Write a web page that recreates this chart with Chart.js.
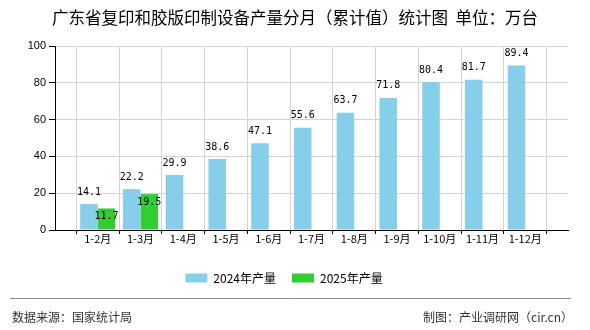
<!DOCTYPE html>
<html>
<head>
<meta charset="utf-8">
<script src="https://cdn.jsdelivr.net/npm/chart.js@4/dist/chart.umd.min.js"></script>
<style>
    html, body { margin: 0; padding: 0; background: #fff; }
    #wrap { width: 590px; height: 330px; position: relative; }
</style>
</head>
<body>
<div id="wrap"><canvas id="chart" width="590" height="330"></canvas></div>
<script>
// Chart data
const categories = ['1-2月', '1-3月', '1-4月', '1-5月', '1-6月', '1-7月', '1-8月', '1-9月', '1-10月', '1-11月', '1-12月'];
const values2024 = [14.1, 22.2, 29.9, 38.6, 47.1, 55.6, 63.7, 71.8, 80.4, 81.7, 89.4];
const values2025 = [11.7, 19.5];
const seriesNames = ['2024年产量', '2025年产量'];
const yTickMin = 0;
const yTickMax = 100;
const yTickStep = 20;

const titleText = '广东省复印和胶版印制设备产量分月（累计值）统计图  单位：万台';
const sourceText = '数据来源：国家统计局';
const creditText = '制图：产业调研网（cir.cn）';

// empty slot on each side of the categories, like the original axis
const labels = [''].concat(categories, ['']);
function padSeries(values) {
    const out = [null];
    for (let i = 0; i < categories.length; i++) {
        out.push(i < values.length ? values[i] : null);
    }
    out.push(null);
    return out;
}

const cjk = '"Noto Sans CJK SC", "Noto Sans", sans-serif';

// titles, footer and value labels
const decorations = {
    id: 'decorations',
    afterDatasetsDraw(chart) {
        const ctx = chart.ctx;
        ctx.save();
        ctx.font = '10px "DejaVu Sans Mono", monospace';
        ctx.fillStyle = '#000';
        ctx.textAlign = 'center';
        ctx.textBaseline = 'middle';
        chart.data.datasets.forEach((ds, di) => {
            const meta = chart.getDatasetMeta(di);
            meta.data.forEach((bar, i) => {
                const v = ds.data[i];
                if (v === null || v === undefined) return;
                const y = di === 0 ? bar.y - 12 : bar.y + 8;
                ctx.fillText(v.toFixed(1), bar.x, y);
            });
        });
        ctx.restore();
    },
    afterDraw(chart) {
        const ctx = chart.ctx;
        ctx.save();
        ctx.fillStyle = '#000';
        ctx.textAlign = 'center';
        ctx.textBaseline = 'middle';
        ctx.font = '16.5px ' + cjk;
        ctx.fillText(titleText, 295, 18);

        ctx.strokeStyle = '#8c8c8c';
        ctx.lineWidth = 1;
        ctx.beginPath();
        ctx.moveTo(10, 298.5);
        ctx.lineTo(571, 298.5);
        ctx.stroke();

        ctx.fillStyle = '#333';
        ctx.font = '12px ' + cjk;
        ctx.textAlign = 'left';
        ctx.fillText(sourceText, 12, 317);
        ctx.textAlign = 'right';
        ctx.fillText(creditText, 573, 317);
        ctx.restore();
    }
};

new Chart(document.getElementById('chart'), {
    type: 'bar',
    data: {
        labels: labels,
        datasets: [{
            label: seriesNames[0],
            data: padSeries(values2024),
            backgroundColor: '#87ceeb',
            barPercentage: 1,
            categoryPercentage: 0.82
        }, {
            label: seriesNames[1],
            data: padSeries(values2025),
            backgroundColor: '#32cd32',
            barPercentage: 1,
            categoryPercentage: 0.82
        }]
    },
    options: {
        responsive: false,
        animation: false,
        layout: {
            padding: { left: 0, right: 22, top: 46, bottom: 36 }
        },
        plugins: {
            legend: {
                position: 'bottom',
                labels: {
                    boxWidth: 22,
                    boxHeight: 9,
                    padding: 16,
                    color: '#000',
                    font: { size: 12, family: cjk }
                }
            },
            tooltip: { enabled: false },
            title: { display: false }
        },
        scales: {
            x: {
                offset: false,
                grid: {
                    color: '#d3d3d3',
                    tickColor: '#000',
                    tickLength: 4
                },
                border: { color: '#000' },
                ticks: {
                    autoSkip: false,
                    maxRotation: 0,
                    color: '#000',
                    font: { size: 11, family: cjk },
                    padding: -2
                },
                afterFit(scale) { scale.height = 26; }
            },
            y: {
                min: yTickMin,
                max: yTickMax,
                grid: {
                    color: '#d3d3d3',
                    tickColor: '#000',
                    tickLength: 6
                },
                border: { color: '#000' },
                ticks: {
                    stepSize: yTickStep,
                    color: '#000',
                    font: { size: 11, family: '"Liberation Sans", Arial, sans-serif' },
                    padding: 3
                },
                afterFit(scale) { scale.width = 55; }
            }
        }
    },
    plugins: [decorations]
});
</script>
</body>
</html>
